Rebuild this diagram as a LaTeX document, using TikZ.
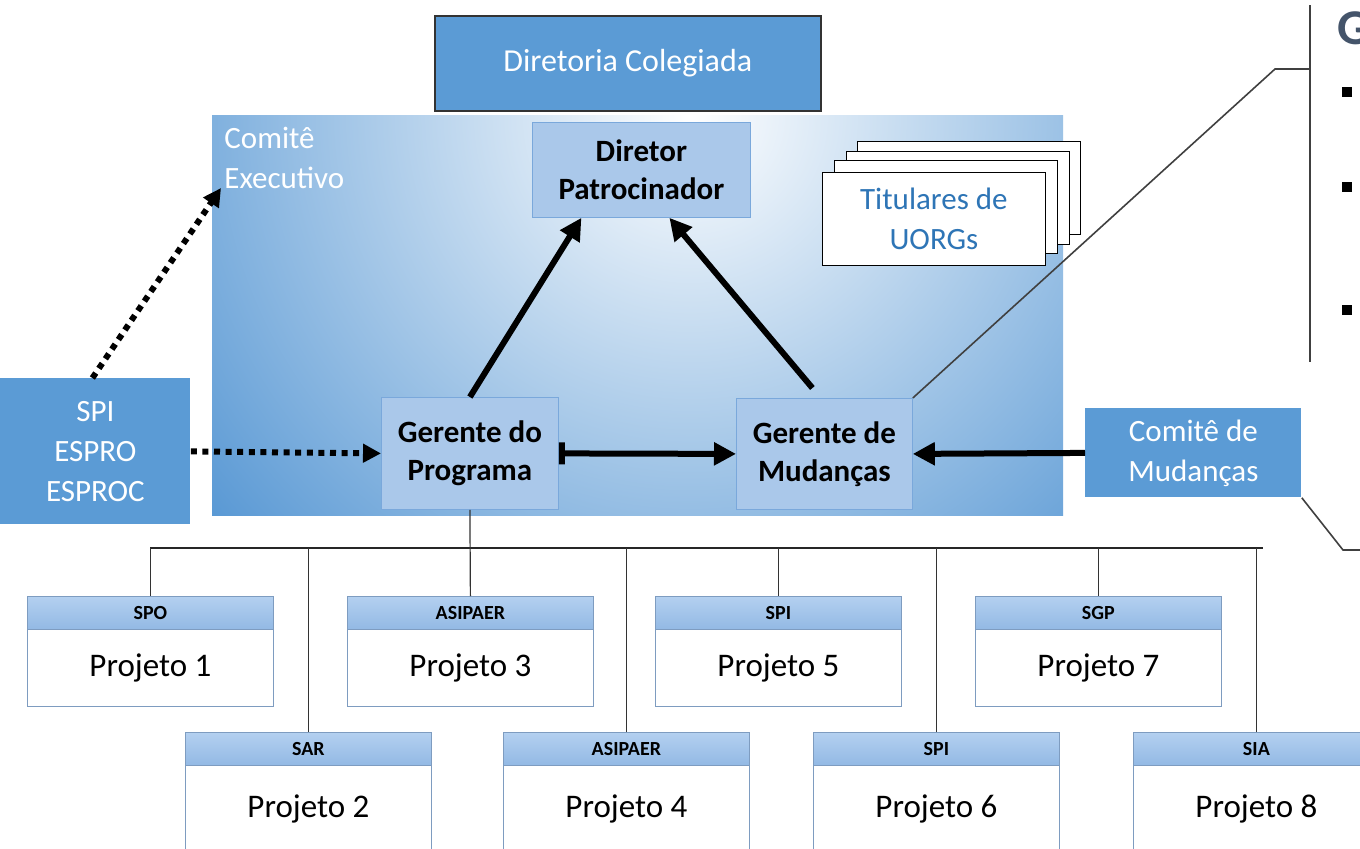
\documentclass[tikz,border=0pt]{standalone}
\usepackage{fontspec}
\setmainfont{Carlito}
\usetikzlibrary{calc,positioning,arrows.meta}
\definecolor{boxblue}{HTML}{5B9BD5}
\definecolor{shadeblue}{HTML}{5596D3}
\definecolor{lightfill}{HTML}{AAC8EA}
\definecolor{lightedge}{HTML}{7AA8DB}
\definecolor{headtop}{HTML}{B4D0F0}
\definecolor{headbot}{HTML}{93B9E4}
\definecolor{projedge}{HTML}{7E9CC0}
\definecolor{uorgtext}{HTML}{2E75B6}
\definecolor{titlecol}{HTML}{44546A}

\begin{document}
\begin{tikzpicture}[x=0.5pt,y=-0.5pt,
  bluebox/.style={fill=boxblue,text=white,align=center,inner sep=0pt,anchor=north west,font=\fontsize{15.5}{20}\selectfont},
  lightbox/.style={draw=lightedge,fill=lightfill,align=center,inner sep=0pt,anchor=north west,font=\bfseries\fontsize{15.5}{19}\selectfont},
  uorgbox/.style={draw=black,fill=white,minimum width=111.5pt,minimum height=46.5pt,inner sep=0pt,anchor=north west},
  projhead/.style={draw=projedge,top color=headtop,bottom color=headbot,minimum width=123pt,minimum height=16.5pt,inner sep=0pt,anchor=north west,font=\bfseries\fontsize{10}{11}\selectfont},
  projbody/.style={draw=projedge,fill=white,minimum width=123pt,minimum height=38.5pt,inner sep=0pt,anchor=north west,font=\fontsize{16.5}{20}\selectfont},
  boldarrow/.style={line width=3pt,-{Triangle[length=11pt,width=11pt]}},
  dotarrow/.style={line width=3pt,dash pattern=on 3pt off 2.8pt,-{Triangle[length=9pt,width=9pt]}},
  thinline/.style={draw=black!80,line width=0.6pt},
  callout/.style={draw=black!75,line width=0.8pt}]
\useasboundingbox (0,0) rectangle (1360,848);
\clip (0,0) rectangle (1360,848);
\fill[white] (0,0) rectangle (1360,848);
% board on top
\node[bluebox,draw=black!80,line width=0.8pt,minimum width=193pt,minimum height=47.5pt,font=\fontsize{16}{20}\selectfont] (board) at (434,15) {Diretoria Colegiada};
% executive committee area
\begin{scope}
\clip (212,115) rectangle (1063,515);
\shade[inner color=white,outer color=shadeblue] (690,115) circle (640);
\end{scope}
\node[anchor=north west,inner sep=0pt,text=white,align=left,font=\fontsize{15.5}{20}\selectfont] (exec) at (224,127) {Comitê\\Executivo};
\coordinate (exectip) at (221,188);
% sponsor and UORG holders
\node[lightbox,minimum width=109pt,minimum height=47.5pt] (sponsor) at (532,122) {Diretor\\Patrocinador};
\node[uorgbox] (uorg3) at (857,141) {};
\node[uorgbox] (uorg2) at (846,151) {};
\node[uorgbox] (uorg1) at (834,160) {};
\node[uorgbox,text=uorgtext,align=center,font=\fontsize{15.5}{20}\selectfont] (uorg) at (822,172) {Titulares de\\UORGs};
% managers
\node[lightbox,minimum width=88.5pt,minimum height=56pt] (prog) at (381,397) {Gerente do\\Programa};
\node[lightbox,minimum width=88pt,minimum height=55.5pt] (chg) at (736,398) {Gerente de\\Mudanças};
% side boxes
\node[bluebox,minimum width=95pt,minimum height=73pt] (spi) at (0,378) {SPI\\ESPRO\\ESPROC};
\node[bluebox,minimum width=108pt,minimum height=44.5pt] (chgcom) at (1085,408) {Comitê de\\Mudanças};
% arrows
\draw[boldarrow] (prog.north) -- ($(sponsor.south)+(-60,0)$);
\draw[boldarrow] ($(chg.north)+(-12,-10)$) -- ($(sponsor.south)+(28,0)$);
\draw[line width=3pt,{Bar[width=11pt]}-{Triangle[length=11pt,width=11pt]}] (prog.east) -- (chg.west);
\draw[boldarrow] (chgcom.west) -- (chg.east);
\draw[dotarrow] (spi.east) -- (prog.west);
\draw[dotarrow] ($(spi.north)+(-3,0)$) -- (exectip);
% projects, first row
\node[projhead] (p1h) at (27,596) {SPO};
\node[projbody] (p1) at (27,629) {Projeto 1};
\node[projhead] (p3h) at (347,596) {ASIPAER};
\node[projbody] (p3) at (347,629) {Projeto 3};
\node[projhead] (p5h) at (655,596) {SPI};
\node[projbody] (p5) at (655,629) {Projeto 5};
\node[projhead] (p7h) at (975,596) {SGP};
\node[projbody] (p7) at (975,629) {Projeto 7};
% projects, second row
\node[projhead] (p2h) at (185,732) {SAR};
\node[projbody,minimum height=44pt] (p2) at (185,765) {Projeto 2};
\node[projhead] (p4h) at (503,732) {ASIPAER};
\node[projbody,minimum height=44pt] (p4) at (503,765) {Projeto 4};
\node[projhead] (p6h) at (813,732) {SPI};
\node[projbody,minimum height=44pt] (p6) at (813,765) {Projeto 6};
\node[projhead] (p8h) at (1133,732) {SIA};
\node[projbody,minimum height=44pt] (p8) at (1133,765) {Projeto 8};
% bus line to the projects
\coordinate (bus) at (0,548);
\draw[draw=black!85,line width=1.2pt] (p1h.north |- bus) -- ($(p8h.north |- bus)+(7,0)$);
\draw[thinline] (prog.south) -- (p3h.north);
\draw[thinline] (p1h.north |- bus) -- (p1h.north);
\draw[thinline] (p2h.north |- bus) -- (p2h.north);
\draw[thinline] (p4h.north |- bus) -- (p4h.north);
\draw[thinline] (p5h.north |- bus) -- (p5h.north);
\draw[thinline] (p6h.north |- bus) -- (p6h.north);
\draw[thinline] (p7h.north |- bus) -- (p7h.north);
\draw[thinline] (p8h.north |- bus) -- (p8h.north);
% callout on the right
\coordinate (bend1) at (1275,69);
\coordinate (bartop) at (1310,5);
\coordinate (barbot) at (1310,362);
\draw[callout] (chg.north east) -- (bend1) -- (bend1 -| bartop);
\draw[draw=black!75,line width=1.3pt] (bartop) -- (barbot);
\coordinate (bend2) at (1343,550);
\coordinate (edge2) at (1370,550);
\draw[callout] (chgcom.south east) -- (bend2) -- (edge2);
\node[anchor=north west,inner sep=0pt,text=titlecol,font=\bfseries\fontsize{25}{25}\selectfont] (title) at (1337,11) {G};
\fill (1342,87) rectangle (1352,97);
\fill (1342,182) rectangle (1352,192);
\fill (1342,305) rectangle (1352,315);
\end{tikzpicture}
\end{document}
